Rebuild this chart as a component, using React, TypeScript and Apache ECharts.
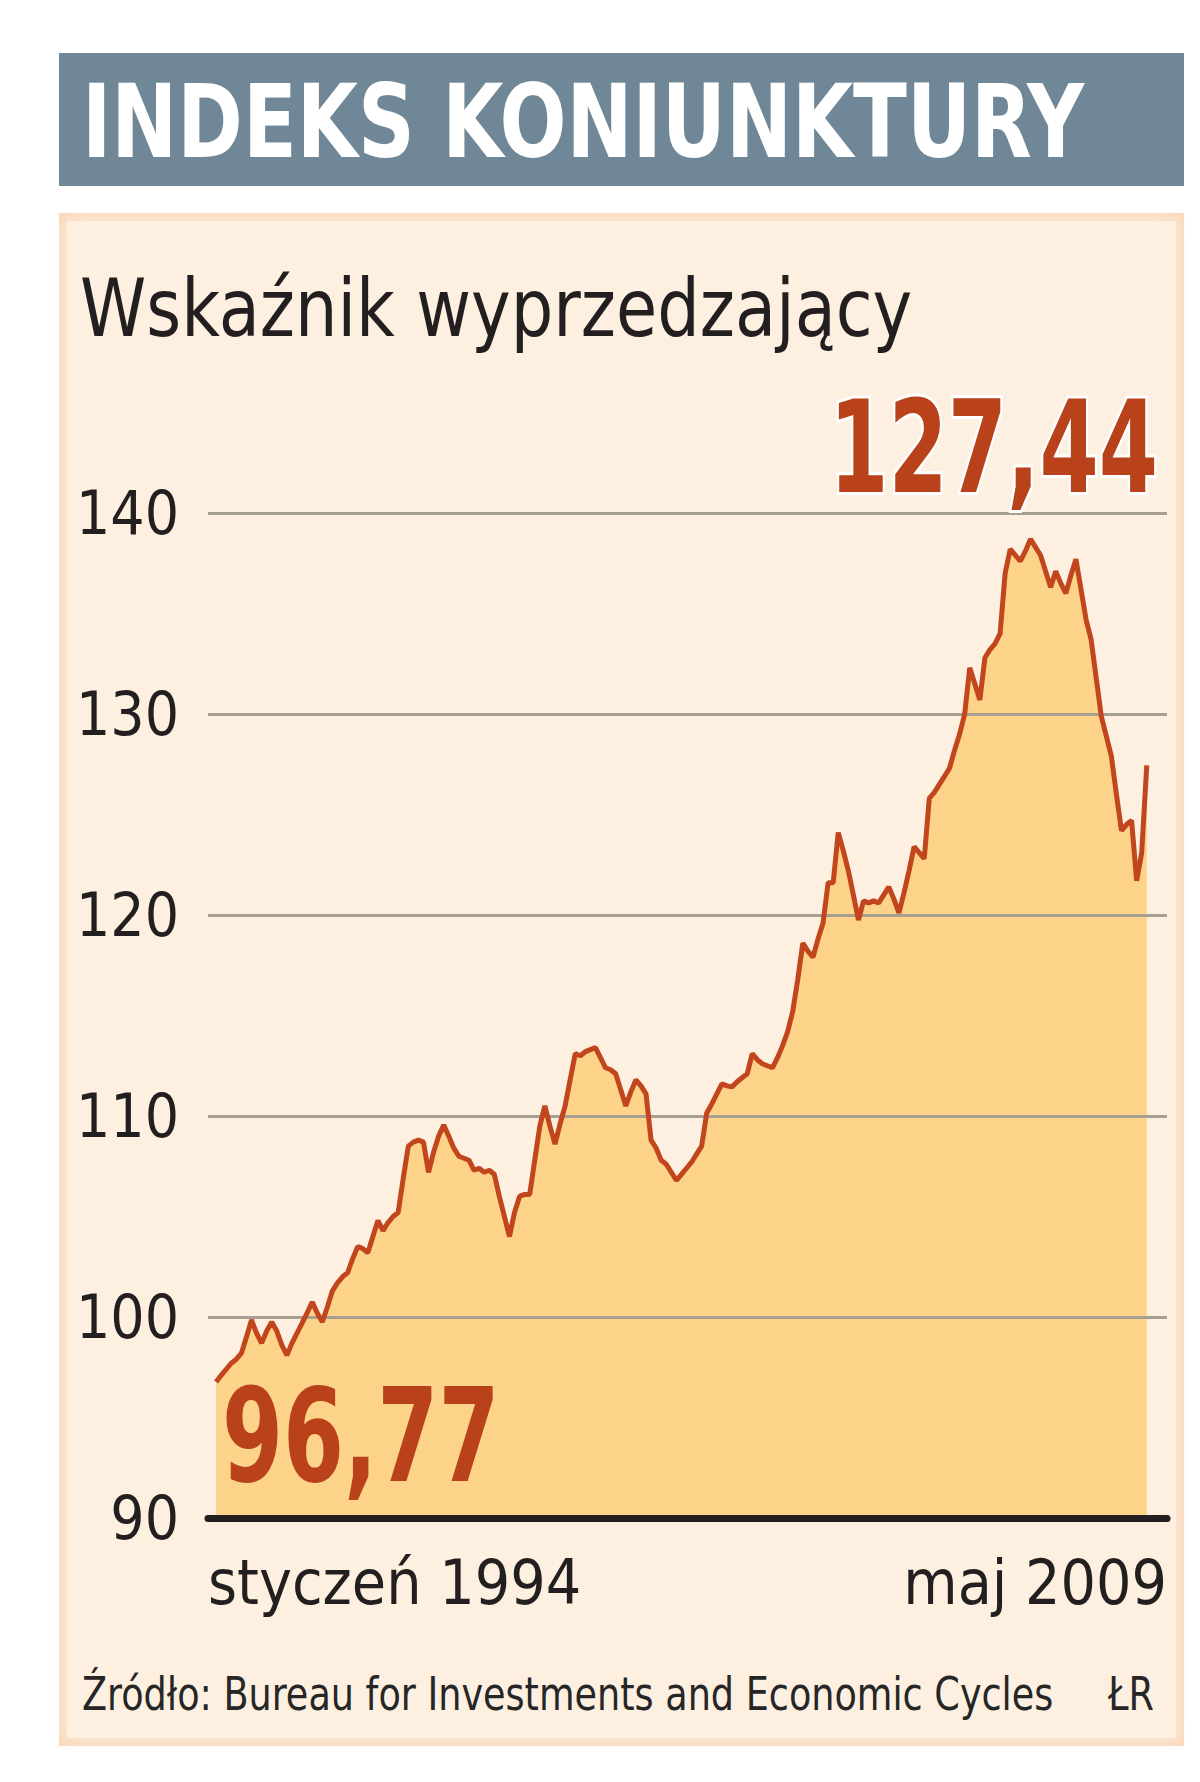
import React, { useEffect, useRef } from 'react';
import * as echarts from 'echarts';

const TITLE = 'INDEKS KONIUNKTURY';
const SUBTITLE = 'Wskaźnik wyprzedzający';
const SOURCE = 'Źródło: Bureau for Investments and Economic Cycles';
const AUTHOR = 'ŁR';
const X_LABELS = ['styczeń 1994', 'maj 2009'];
const Y_MIN = 90;
const Y_MAX = 140;
const Y_STEP = 10;

// monthly values, January 1994 - May 2009
const VALUES_1994_1998 = [
  96.77, 97.1, 97.4, 97.7, 97.9, 98.2, 99.0, 99.85, 99.2, 98.7, 99.3, 99.75,
  99.3, 98.6, 98.1, 98.7, 99.2, 99.7, 100.2, 100.75, 100.2, 99.75, 100.5, 101.3,
  101.7, 102.0, 102.2, 102.9, 103.5, 103.4, 103.2, 104.0, 104.8, 104.3, 104.7, 105.0,
  105.2, 106.9, 108.5, 108.7, 108.8, 108.7, 107.2, 108.2, 109.0, 109.55, 109.0, 108.4,
  108.0, 107.9, 107.8, 107.3, 107.4, 107.2, 107.3, 107.1, 106.0, 105.0, 104.0, 105.2,
];
const VALUES_1999_2003 = [
  106.0, 106.1, 106.1, 107.8, 109.5, 110.5, 109.5, 108.6, 109.6, 110.5, 111.8, 113.1,
  113.0, 113.2, 113.3, 113.4, 112.9, 112.4, 112.3, 112.1, 111.3, 110.5, 111.2, 111.8,
  111.5, 111.1, 108.8, 108.4, 107.8, 107.6, 107.2, 106.8, 107.1, 107.4, 107.7, 108.1,
  108.5, 110.15, 110.6, 111.1, 111.6, 111.5, 111.45, 111.7, 111.9, 112.1, 113.1, 112.8,
  112.6, 112.5, 112.4, 112.9, 113.5, 114.2, 115.2, 116.8, 118.6, 118.2, 117.9, 118.8,
];
const VALUES_2004_2009 = [
  119.6, 121.6, 121.6, 124.1, 123.2, 122.2, 121.0, 119.75, 120.7, 120.6, 120.7, 120.6,
  121.0, 121.4, 120.8, 120.1, 121.1, 122.2, 123.4, 123.1, 122.8, 125.8, 126.1, 126.5,
  126.9, 127.3, 128.2, 129.0, 130.0, 132.3, 131.5, 130.7, 132.8, 133.2, 133.5, 134.0,
  137.0, 138.2, 137.9, 137.6, 138.1, 138.7, 138.3, 137.9, 137.1, 136.3, 137.1, 136.5,
  136.0, 136.9, 137.7, 136.2, 134.7, 133.7, 131.8, 129.9, 128.9, 127.9, 126.0, 124.2,
  124.5, 124.7, 121.7, 123.1, 127.44,
];
const VALUES = [...VALUES_1994_1998, ...VALUES_1999_2003, ...VALUES_2004_2009];

const FONT = "'DejaVu Sans Condensed', 'DejaVu Sans', sans-serif";
const DARK = '#231f20';
const RED = '#b9421a';

export default function App() {
  const ref = useRef<HTMLDivElement>(null);

  useEffect(() => {
    document.body.style.margin = '0';
    const chart = echarts.init(ref.current!, null, { renderer: 'svg' });
    const n = VALUES.length;
    const data = VALUES.map((v, i) => [i, v]);
    const fmt = (v: number) => v.toFixed(2).replace('.', ',');
    const xMin = -1.6;
    const xMax = n - 1 + 4;

    chart.setOption({
      animation: false,
      backgroundColor: '#ffffff',
      grid: { left: 208, right: 33, top: 513, bottom: 264, containLabel: false },
      xAxis: {
        type: 'value',
        min: xMin,
        max: xMax,
        splitLine: { show: false },
        axisTick: { show: false },
        axisLine: { show: true, onZero: false, lineStyle: { color: DARK, width: 7 } },
        axisLabel: {
          customValues: [xMin, xMax],
          formatter: (v: number) => (v < n / 2 ? X_LABELS[0] : X_LABELS[1]),
          alignMinLabel: 'left',
          alignMaxLabel: 'right',
          fontFamily: FONT,
          fontSize: 62,
          color: DARK,
          margin: 33,
        },
      },
      yAxis: {
        type: 'value',
        min: Y_MIN,
        max: Y_MAX,
        interval: Y_STEP,
        axisLine: { show: false },
        axisTick: { show: false },
        splitLine: { show: true, lineStyle: { color: '#a89f93', width: 3 } },
        axisLabel: { fontFamily: FONT, fontSize: 60, color: DARK, margin: 29 },
      },
      series: [
        {
          type: 'line',
          data,
          z: -1,
          symbol: 'none',
          lineStyle: { width: 0, opacity: 0 },
          areaStyle: { color: '#fdd289', opacity: 1 },
          silent: true,
        },
        {
          type: 'line',
          data,
          z: 3,
          symbol: 'none',
          lineStyle: { color: '#c1461d', width: 5 },
          silent: true,
        },
      ],
      graphic: [
        { type: 'rect', z: -30, shape: { x: 59, y: 53, width: 1125, height: 133 }, style: { fill: '#6f8796' } },
        {
          type: 'text', z: 10, x: 82, y: 122, scaleX: 0.86,
          style: { text: TITLE, x: 0, y: 0, fill: '#ffffff', font: `bold 102px ${FONT}`, align: 'left', verticalAlign: 'middle' },
        },
        { type: 'rect', z: -30, shape: { x: 59, y: 213, width: 1125, height: 1533 }, style: { fill: '#f9d9bd' } },
        {
          type: 'rect', z: -29, shape: { x: 67, y: 221, width: 1109, height: 1517 },
          style: { fill: '#fdf0e0', shadowBlur: 18, shadowColor: '#fdf0e0' },
        },
        {
          type: 'text', z: 10, x: 80, y: 308, scaleX: 0.92,
          style: { text: SUBTITLE, x: 0, y: 0, fill: DARK, font: `81px ${FONT}`, align: 'left', verticalAlign: 'middle' },
        },
        {
          type: 'text', z: 10, x: 1158, y: 448, scaleX: 0.74,
          style: {
            text: fmt(VALUES[n - 1]), x: 0, y: 0, fill: RED, font: `bold 128px ${FONT}`,
            align: 'right', verticalAlign: 'middle', stroke: '#ffffff', lineWidth: 6, strokeFirst: true,
          },
        },
        {
          type: 'text', z: 10, x: 222, y: 1436, scaleX: 0.75,
          style: { text: fmt(VALUES[0]), x: 0, y: 0, fill: RED, font: `bold 130px ${FONT}`, align: 'left', verticalAlign: 'middle' },
        },
        {
          type: 'text', z: 10, x: 82, y: 1693, scaleX: 0.865,
          style: { text: SOURCE, x: 0, y: 0, fill: '#262626', font: `47px ${FONT}`, align: 'left', verticalAlign: 'middle' },
        },
        {
          type: 'text', z: 10, x: 1154, y: 1693, scaleX: 0.865,
          style: { text: AUTHOR, x: 0, y: 0, fill: '#262626', font: `47px ${FONT}`, align: 'right', verticalAlign: 'middle' },
        },
      ],
    });
    return () => chart.dispose();
  }, []);

  return <div ref={ref} style={{ width: 1200, height: 1782 }} />;
}
